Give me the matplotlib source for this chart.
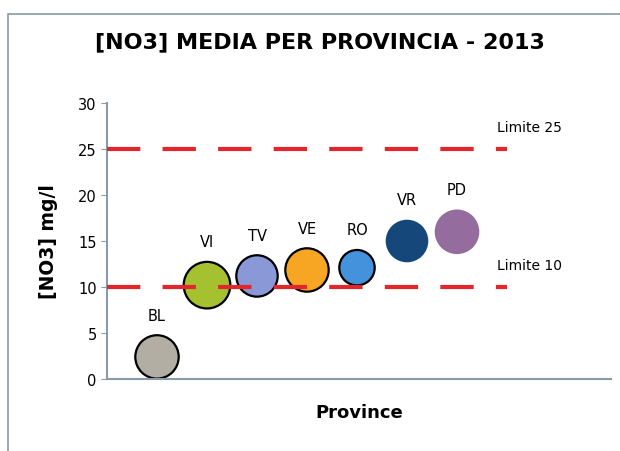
import matplotlib
matplotlib.use("Agg")
import matplotlib.pyplot as plt
from matplotlib.patches import Rectangle

province = ['BL', 'VI', 'TV', 'VE', 'RO', 'VR', 'PD']
xpos = [1, 2, 3, 4, 5, 6, 7]
no3 = [2.4, 10.2, 11.2, 11.85, 12.1, 15.0, 16.0]
bolla = [21.7, 23.3, 20.7, 21.7, 17.7, 21.3, 22.3]  # raggio bolle (px)
colori = ['#b3aea4', '#a5c12f', '#8a98d8', '#f6a623', '#4492dc', '#15477a', '#956c9e']
bordi = ['black', 'black', 'black', 'black', 'black', 'none', 'none']
limiti = [25, 10]
limiti_lab = ['Limite 25', 'Limite 10']

plt.rcParams['lines.scale_dashes'] = False
fig = plt.figure(figsize=(6.2, 4.52), dpi=100)
# cornice del grafico
fig.patches.append(Rectangle((8/620, -0.05), 1.1, 1 - 15/452 + 0.05, transform=fig.transFigure,
                             fill=False, edgecolor='#8a9ba6', linewidth=1.2))
ax = fig.add_axes([107/620, 72/452, 504/620, 276/452])

# area in punti^2 dal raggio in pixel
s = [((2 * r) * 72 / 100) ** 2 for r in bolla]
ax.scatter(xpos, no3, s=s, c=colori, edgecolors=bordi, linewidths=1.6, zorder=2)

for x, y, r, lab in zip(xpos, no3, bolla, province):
    ax.annotate(lab, (x, y), xytext=(0, (r + 20) * 0.72), textcoords='offset points',
                ha='center', va='center', fontsize=10.5)

for v, lab in zip(limiti, limiti_lab):
    ax.plot([0, 8], [v, v], color='#e3262c', lw=3, linestyle=(0, (24, 16)), zorder=3)
    ax.text(7.8, v + 2.4, lab, fontsize=10, ha='left', va='center')

ax.set_xlim(0, 10.08)
ax.set_ylim(0, 30)
ax.set_yticks([0, 5, 10, 15, 20, 25, 30])
ax.set_xticks([])
ax.tick_params(axis='y', labelsize=10.5, length=4, color='#8a9ba6', direction='out')
for sp in ['top', 'right']:
    ax.spines[sp].set_visible(False)
for sp in ['left', 'bottom']:
    ax.spines[sp].set_color('#8a9ba6')
    ax.spines[sp].set_linewidth(1.5)
ax.set_ylabel('[NO3] mg/l', fontsize=13.5, fontweight='bold', labelpad=14)
ax.set_xlabel('Province', fontsize=13, fontweight='bold', labelpad=17)
fig.text(320/620, 1 - 42/452, '[NO3] MEDIA PER PROVINCIA - 2013', ha='center', va='center',
         fontsize=16, fontweight='bold')

fig.savefig('out.png', dpi=100)
